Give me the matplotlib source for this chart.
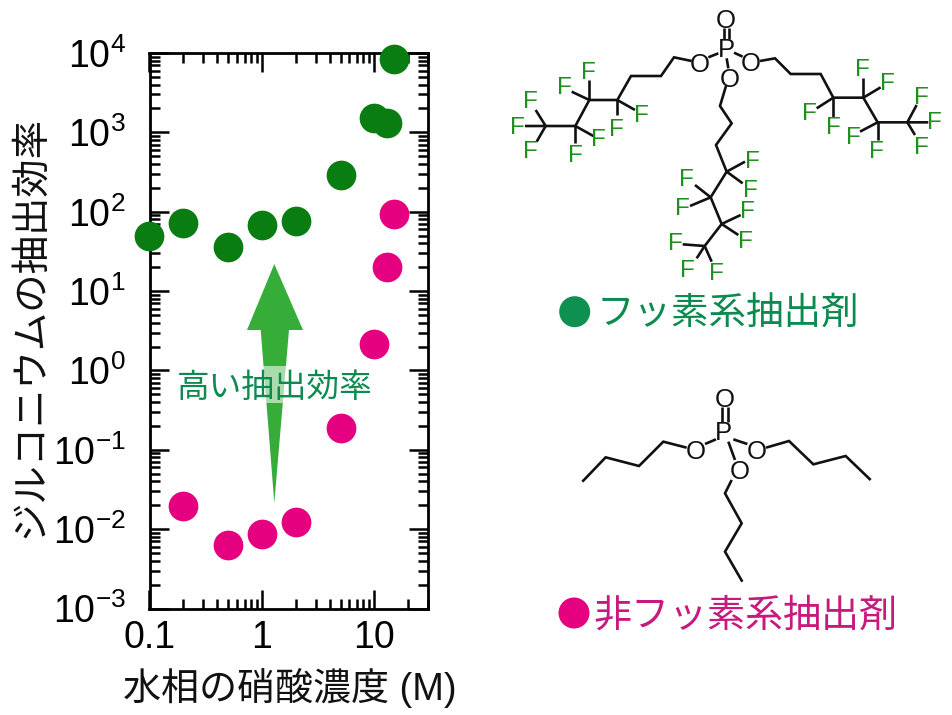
import math
import matplotlib
matplotlib.use("Agg")
import matplotlib.pyplot as plt
from matplotlib.ticker import LogLocator, FuncFormatter, NullFormatter
from matplotlib.patches import Polygon, Rectangle, Circle

plt.rcParams['font.family'] = ['Liberation Sans', 'Noto Sans CJK JP', 'DejaVu Sans']
plt.rcParams['mathtext.fontset'] = 'custom'
plt.rcParams['mathtext.rm'] = 'Liberation Sans'
plt.rcParams['mathtext.default'] = 'regular'

# ---- data ----
x_green = [0.1, 0.2, 0.5, 1, 2, 5, 10, 13, 15]
y_green = [50, 73, 36, 69, 76, 289, 1520, 1330, 8470]
x_pink = [0.2, 0.5, 1, 2, 5, 10, 13, 15]
y_pink = [0.0196, 0.00636, 0.00873, 0.01225, 0.186, 2.14, 20, 93]
x_ticks = [0.1, 1, 10]
x_ticklabels = ['0.1', '1', '10']
y_ticks = [1e-3, 1e-2, 1e-1, 1e0, 1e1, 1e2, 1e3, 1e4]
xlabel_text = '水相の硝酸濃度 (M)'
ylabel_text = 'ジルコニウムの抽出効率'
arrow_text = '高い抽出効率'
legend_f = 'フッ素系抽出剤'
legend_n = '非フッ素系抽出剤'

W, H = 952, 715
GREEN = '#0a7d12'
PINK = '#e5007f'
TXT_G = '#0d8a50'
TXT_P = '#c8197f'
ARROW = '#36ad38'
F_COL = '#1f8f1f'

fig = plt.figure(figsize=(W / 100, H / 100), dpi=100, facecolor='white')
L, R, T, B = 149.5, 428, 53, 608.5
ax = fig.add_axes([L / W, 1 - B / H, (R - L) / W, (B - T) / H])
ax.set_xscale('log')
ax.set_yscale('log')
ax.set_xlim(0.1, 30)
ax.set_ylim(1e-3, 1e4)

ax.plot(x_green, y_green, 'o', color=GREEN, ms=21.4, mew=0, clip_on=False, zorder=5)
ax.plot(x_pink, y_pink, 'o', color=PINK, ms=21.4, mew=0, clip_on=False, zorder=5)

for s in ax.spines.values():
    s.set_linewidth(2.0)
ax.set_xticks(x_ticks)
ax.set_xticklabels(x_ticklabels)
ax.xaxis.set_minor_locator(LogLocator(base=10, subs=range(2, 10), numticks=20))
ax.xaxis.set_minor_formatter(NullFormatter())
ax.set_yticks(y_ticks)
ax.yaxis.set_major_formatter(FuncFormatter(lambda v, p: r'$10^{%d}$' % round(math.log10(v))))
ax.yaxis.set_minor_locator(LogLocator(base=10, subs=range(2, 10), numticks=20))
ax.yaxis.set_minor_formatter(NullFormatter())
ax.tick_params(which='major', direction='in', length=13.5, width=1.8, top=True, right=True, labelsize=27)
ax.tick_params(which='minor', direction='in', length=7.2, width=1.8, top=True, right=True)
ax.tick_params(axis='x', which='major', pad=8)
ax.tick_params(axis='y', which='major', pad=17)

# overlay in image pixels for annotations and structure drawings
ov = fig.add_axes([0, 0, 1, 1], facecolor='none', zorder=10)
ov.set_xlim(0, W)
ov.set_ylim(H, 0)
ov.axis('off')

ov.text(290, 688, xlabel_text, fontsize=27.4, ha='center', va='center', color='#111111')
ov.text(31, 327, ylabel_text, fontsize=27.6, ha='center', va='center', rotation=90, color='#111111')

ov.add_patch(Polygon([(274.3, 264), (303, 330), (289, 330), (274.3, 503), (260.7, 330), (247, 330)],
                     closed=True, fc=ARROW, ec='none'))
ov.add_patch(Rectangle((178, 366), 194, 37, fc='white', ec='none', alpha=0.58))
ov.text(274.5, 388, arrow_text, fontsize=23.5, color=TXT_G, ha='center', va='center')

BW = 1.9


def poly(pts, ox, oy, lw=BW, c='#111111'):
    ov.plot([ox + p[0] / 3 for p in pts], [oy + p[1] / 3 for p in pts], color=c, lw=lw,
            solid_joinstyle='miter', solid_capstyle='butt')


def lab(s, x, y, ox, oy, c='#111111', fs=18.5):
    ov.text(ox + x / 3, oy + y / 3, s, color=c, fontsize=fs, ha='center', va='center_baseline')


# fluorinated structure
ox, oy = 500, 0
for seg in [[(672, 85), (672, 118)], [(686, 85), (686, 118)], [(655, 160), (625, 172)],
            [(702, 158), (728, 170)], [(680, 175), (685, 205)],
            [(575, 183), (522, 172), (483, 228), (393, 228), (352, 300), (268, 300), (226, 378), (137, 378), (75, 378)],
            [(352, 300), (352, 345)], [(352, 300), (405, 330)], [(268, 300), (268, 240)], [(268, 300), (215, 275)],
            [(226, 378), (280, 408)], [(226, 378), (226, 430)], [(137, 378), (107, 330)], [(137, 378), (110, 425)],
            [(678, 258), (660, 318), (695, 370), (648, 435), (680, 515), (632, 592), (665, 672), (614, 738), (548, 733)],
            [(680, 515), (735, 485)], [(680, 515), (728, 550)], [(632, 592), (585, 555)], [(632, 592), (570, 618)],
            [(665, 672), (722, 645)], [(665, 672), (715, 705)], [(614, 738), (590, 775)], [(614, 738), (635, 785)],
            [(780, 183), (825, 175), (872, 222), (962, 222), (1000, 293), (1090, 293), (1133, 367), (1222, 367), (1285, 367)],
            [(1000, 293), (950, 325)], [(1000, 293), (1000, 350)], [(1090, 293), (1090, 235)], [(1090, 293), (1142, 262)],
            [(1133, 367), (1080, 395)], [(1133, 367), (1133, 420)], [(1222, 367), (1250, 315)], [(1222, 367), (1245, 405)]]:
    poly(seg, ox, oy)
for s, x, y in [('O', 678, 55), ('P', 678, 143), ('O', 600, 187), ('O', 752, 185), ('O', 690, 233)]:
    lab(s, x, y, ox, oy)
for x, y in [(350, 382), (425, 340), (264, 212), (192, 258), (296, 412), (225, 460), (90, 300), (52, 376), (92, 448),
             (758, 478), (750, 565), (558, 533), (548, 620), (743, 630), (735, 718), (525, 725), (562, 805), (648, 815),
             (928, 333), (1000, 375), (1086, 203), (1163, 245), (1060, 405), (1130, 448), (1263, 287), (1303, 362), (1263, 435)]:
    lab('F', x, y, ox, oy, c=F_COL, fs=17.5)

# non-fluorinated structure
ox, oy = 550, 380
for seg in [[(517, 82), (517, 125)], [(533, 82), (533, 125)], [(498, 178), (465, 192)], [(550, 178), (592, 192)],
            [(535, 185), (555, 240)],
            [(410, 203), (340, 185), (267, 258), (167, 232), (97, 305)],
            [(648, 203), (717, 183), (790, 253), (887, 228), (962, 300)],
            [(545, 300), (525, 340), (575, 430), (525, 515), (577, 605)]]:
    poly(seg, ox, oy)
for s, x, y in [('O', 525, 52), ('P', 520, 150), ('O', 437, 208), ('O', 620, 208), ('O', 570, 268)]:
    lab(s, x, y, ox, oy)

# legends
ov.add_patch(Circle((574.7, 311.7), 15.5, fc='#0d9050', ec='none'))
ov.text(597, 314.5, legend_f, fontsize=27, color=TXT_G, ha='left', va='center')
ov.add_patch(Circle((574, 613), 15.5, fc=PINK, ec='none'))
ov.text(593, 616.5, legend_n, fontsize=27.4, color=TXT_P, ha='left', va='center')

fig.savefig('out.png', dpi=100, facecolor='white')
